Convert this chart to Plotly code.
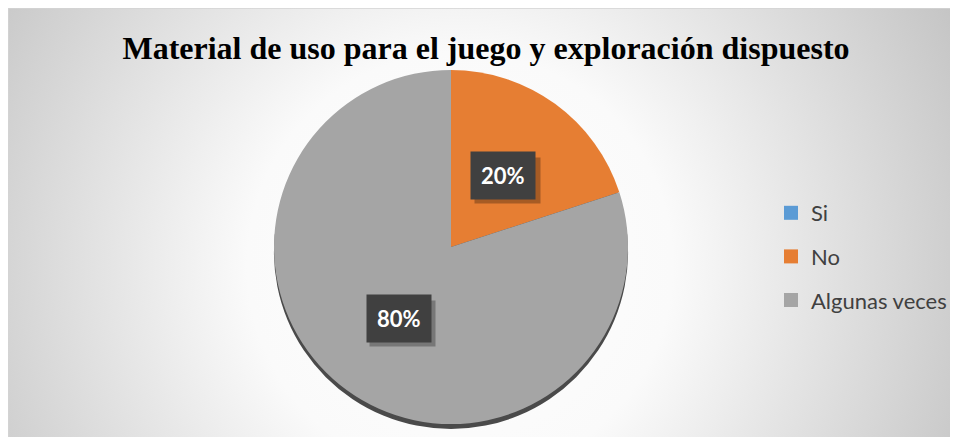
import base64
import math
import plotly.graph_objects as go

# datos del gráfico
categorias = ['Si', 'No', 'Algunas veces']
porcentajes = [0, 20, 80]
colores = ['#5b9bd5', '#e67e33', '#a5a5a5']
titulo = 'Material de uso para el juego y exploración dispuesto'

# la pagina deja 8 px de margen blanco (body), que hace de borde exterior
W, H = 950, 429
# posicion del pastel en pixeles
cx, cy, R = 443, 239, 177

# fondo con degradado radial (como en Excel)
svg = f'''<svg xmlns="http://www.w3.org/2000/svg" width="{W}" height="{H}">
<defs><radialGradient id="g" gradientUnits="userSpaceOnUse" cx="452" cy="257" r="560">
<stop offset="0" stop-color="#ffffff"/><stop offset="0.38" stop-color="#fafafa"/>
<stop offset="1" stop-color="#c4c4c4"/></radialGradient></defs>
<rect x="0" y="0" width="{W + 2}" height="{H + 2}" fill="url(#g)" stroke="#d4d4d4" stroke-width="1.5"/>
</svg>'''
fondo = 'data:image/svg+xml;base64,' + base64.b64encode(svg.encode()).decode()


def dominio(dx=0, dy=0):
    return dict(x=[(cx - R + dx) / W, (cx + R + dx) / W],
                y=[1 - (cy + R + dy) / H, 1 - (cy - R + dy) / H])


fig = go.Figure()

# borde oscuro inferior (efecto 3D)
fig.add_trace(go.Pie(values=[1], labels=['borde'], domain=dominio(0, 5),
                     marker=dict(colors=['#4a4a4a'], line=dict(width=0)),
                     textinfo='none', hoverinfo='skip', showlegend=False, sort=False))

fig.add_trace(go.Pie(labels=categorias, values=porcentajes, domain=dominio(),
                     marker=dict(colors=colores, line=dict(width=0)),
                     sort=False, direction='clockwise', rotation=0,
                     textinfo='none', showlegend=False))

# leyenda
for cat, col in zip(categorias, colores):
    fig.add_trace(go.Scatter(x=[None], y=[None], mode='markers', name=cat, legendgroup=cat,
                             marker=dict(symbol='square', size=14, color=col)))

# etiquetas de porcentaje en cajas oscuras (con sombra)
total = sum(porcentajes)
acum = 0
for v in porcentajes:
    if v > 0:
        medio = (acum + v / 2) / total * 2 * math.pi
        px = cx + 0.5 * R * math.sin(medio)
        py = cy - 0.5 * R * math.cos(medio)
        fig.add_annotation(x=px / W, y=1 - py / H, xref='paper', yref='paper', showarrow=False,
                           xanchor='center', yanchor='middle',
                           text=' ', width=45, height=25, bgcolor='rgba(0,0,0,0.28)', borderpad=10,
                           xshift=4, yshift=-5)
        fig.add_annotation(x=px / W, y=1 - py / H, xref='paper', yref='paper', showarrow=False,
                           xanchor='center', yanchor='middle',
                           text=f'<b>{v}%</b>', font=dict(family='Lato', size=22, color='white'),
                           bgcolor='#404040', borderpad=10)
    acum += v

fig.update_layout(
    width=W, height=H,
    margin=dict(l=0, r=0, t=0, b=0),
    paper_bgcolor='white', plot_bgcolor='rgba(0,0,0,0)',
    title=dict(text=f'<b>{titulo}</b>', x=478 / W, xanchor='center', y=1 - 40 / H, yanchor='middle',
               font=dict(family='Liberation Serif', size=32, color='black')),
    xaxis=dict(visible=False), yaxis=dict(visible=False),
    legend=dict(x=763 / W, y=1 - 184 / H, xanchor='left', yanchor='top',
                font=dict(family='Lato', size=22, color='#404040'),
                tracegroupgap=12, bgcolor='rgba(0,0,0,0)', itemclick=False),
    images=[dict(source=fondo, xref='paper', yref='paper', x=0, y=1, sizex=1, sizey=1,
                 sizing='stretch', layer='below')],
)

fig.write_html('out.html')
